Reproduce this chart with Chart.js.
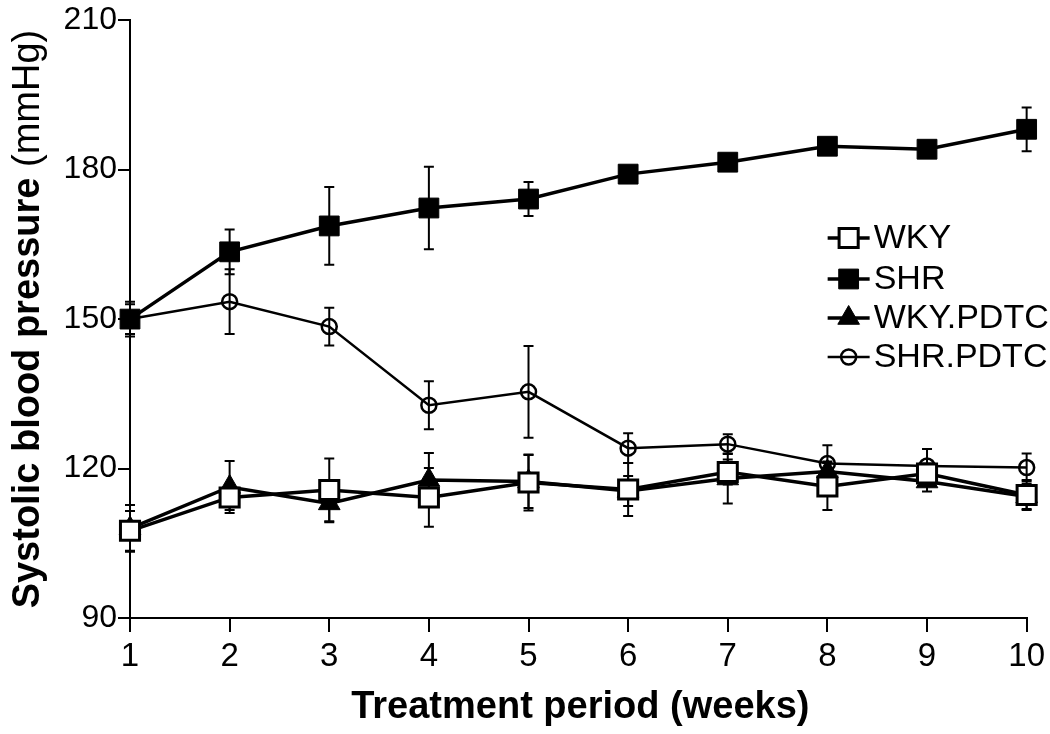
<!DOCTYPE html>
<html>
<head>
<meta charset="utf-8">
<script src="https://cdn.jsdelivr.net/npm/chart.js@4"></script>
<style>
  html, body { margin: 0; padding: 0; background: #fff; }
  #wrap { width: 1050px; height: 734px; position: relative; }
</style>
</head>
<body>
<div id="wrap"><canvas id="c" width="1050" height="734"></canvas></div>
<script>
// ---- data ----
const weeks = [1, 2, 3, 4, 5, 6, 7, 8, 9, 10];
const seriesNames = ['WKY', 'SHR', 'WKY.PDTC', 'SHR.PDTC'];
const wky        = [107.5, 114.2, 115.7, 114.2, 117.2, 115.8, 119.3, 116.4, 119.0, 114.7];
const wkyErr     = [4.0, 2.5, 6.3, 5.9, 5.6, 5.3, 2.5, 4.7, 2.0, 3.0];
const shr        = [150.0, 163.5, 168.7, 172.3, 174.1, 179.1, 181.5, 184.7, 184.1, 188.1];
const shrErr     = [3.5, 4.5, 7.8, 8.3, 3.4, 1.5, 1.2, 1.0, 1.0, 4.4];
const wkyPdtc    = [108.0, 116.3, 113.0, 117.7, 117.4, 115.5, 118.0, 119.4, 117.4, 114.4];
const wkyPdtcErr = [4.7, 5.2, 3.8, 5.4, 5.3, 3.0, 5.0, 2.0, 2.0, 2.5];
const shrPdtc    = [150.0, 153.5, 148.5, 132.7, 135.4, 124.1, 124.9, 121.0, 120.5, 120.2];
const shrPdtcErr = [3.0, 6.5, 3.8, 4.8, 9.2, 3.0, 2.0, 3.7, 3.4, 2.8];
const yTicks = [90, 120, 150, 180, 210];
const xTitle = 'Treatment period (weeks)';
const yTitleBold = 'Systolic blood pressure';
const yTitleRegular = ' (mmHg)';

const FONT = "'Liberation Sans', Arial, Helvetica, sans-serif";

function pts(vals) { return weeks.map((w, i) => ({ x: w, y: vals[i] })); }

const datasets = [
  { label: seriesNames[0], data: pts(wky), err: wkyErr, borderColor: '#000', borderWidth: 3.5,
    pointStyle: 'rect', pointRadius: 13.5, pointBackgroundColor: '#fff', pointBorderColor: '#000', pointBorderWidth: 3, clip: false },
  { label: seriesNames[1], data: pts(shr), err: shrErr, borderColor: '#000', borderWidth: 3.5,
    pointStyle: 'rect', pointRadius: 14, pointBackgroundColor: '#000', pointBorderColor: '#000', pointBorderWidth: 1, clip: false },
  { label: seriesNames[2], data: pts(wkyPdtc), err: wkyPdtcErr, borderColor: '#000', borderWidth: 3.5,
    pointStyle: 'triangle', pointRadius: 12.5, pointBackgroundColor: '#000', pointBorderColor: '#000', pointBorderWidth: 1, clip: false },
  { label: seriesNames[3], data: pts(shrPdtc), err: shrPdtcErr, borderColor: '#000', borderWidth: 2.5,
    pointStyle: 'circle', pointRadius: 7.5, pointBackgroundColor: 'rgba(0,0,0,0)', pointBorderColor: '#000', pointBorderWidth: 2.5, clip: false }
];

const errorBars = {
  id: 'errorBars',
  beforeDatasetsDraw(chart) {
    const ctx = chart.ctx, xs = chart.scales.x, ys = chart.scales.y;
    ctx.save();
    ctx.strokeStyle = '#000';
    ctx.lineWidth = 2;
    chart.data.datasets.forEach(ds => {
      ds.data.forEach((p, i) => {
        const e = ds.err[i];
        const px = xs.getPixelForValue(p.x);
        const top = ys.getPixelForValue(p.y + e);
        const bot = ys.getPixelForValue(p.y - e);
        ctx.beginPath();
        ctx.moveTo(px, top); ctx.lineTo(px, bot);
        ctx.moveTo(px - 5, top); ctx.lineTo(px + 5, top);
        ctx.moveTo(px - 5, bot); ctx.lineTo(px + 5, bot);
        ctx.stroke();
      });
    });
    ctx.restore();
  }
};

function drawMarker(ctx, ds, x, y) {
  const r = ds.pointRadius;
  ctx.save();
  ctx.lineWidth = ds.pointBorderWidth;
  ctx.strokeStyle = ds.pointBorderColor;
  ctx.fillStyle = ds.pointBackgroundColor;
  ctx.beginPath();
  if (ds.pointStyle === 'rect') {
    const s = r * Math.SQRT1_2;
    ctx.rect(x - s, y - s, 2 * s, 2 * s);
  } else if (ds.pointStyle === 'triangle') {
    let a = 0;
    ctx.moveTo(x + Math.sin(a) * r, y - Math.cos(a) * r);
    a += 2 * Math.PI / 3;
    ctx.lineTo(x + Math.sin(a) * r, y - Math.cos(a) * r);
    a += 2 * Math.PI / 3;
    ctx.lineTo(x + Math.sin(a) * r, y - Math.cos(a) * r);
    ctx.closePath();
  } else {
    ctx.arc(x, y, r, 0, Math.PI * 2);
  }
  ctx.fill();
  ctx.stroke();
  ctx.restore();
}

const decorations = {
  id: 'decorations',
  afterDraw(chart) {
    const ctx = chart.ctx, area = chart.chartArea;
    ctx.save();
    ctx.fillStyle = '#000';
    // x title
    ctx.font = 'bold 38px ' + FONT;
    ctx.textAlign = 'center';
    ctx.textBaseline = 'alphabetic';
    ctx.fillText(xTitle, (area.left + area.right) / 2 + 2, 718);
    // y title (mixed weight)
    ctx.font = 'bold 38px ' + FONT;
    const wb = ctx.measureText(yTitleBold).width;
    ctx.font = '38px ' + FONT;
    const wr = ctx.measureText(yTitleRegular).width;
    const total = wb + wr;
    ctx.save();
    ctx.translate(39, (area.top + area.bottom) / 2);
    ctx.rotate(-Math.PI / 2);
    ctx.textAlign = 'left';
    ctx.font = 'bold 38px ' + FONT;
    ctx.fillText(yTitleBold, -total / 2, 0);
    ctx.font = '38px ' + FONT;
    ctx.fillText(yTitleRegular, -total / 2 + wb, 0);
    ctx.restore();
    // legend
    const lx0 = area.right - 199, lx1 = area.right - 157, tx = area.right - 153;
    const rowY = [238, 279, 318, 357];
    chart.data.datasets.forEach((ds, i) => {
      const y = rowY[i];
      ctx.strokeStyle = '#000';
      ctx.lineWidth = ds.borderWidth;
      ctx.beginPath();
      ctx.moveTo(lx0, y); ctx.lineTo(lx1, y);
      ctx.stroke();
      drawMarker(ctx, ds, (lx0 + lx1) / 2, y);
      ctx.fillStyle = '#000';
      ctx.font = '34px ' + FONT;
      ctx.textAlign = 'left';
      ctx.textBaseline = 'middle';
      ctx.fillText(ds.label, tx, y + 1);
    });
    ctx.restore();
  }
};

new Chart(document.getElementById('c'), {
  type: 'line',
  data: { datasets },
  options: {
    responsive: false,
    animation: false,
    devicePixelRatio: 1,
    layout: { padding: { top: 20, right: 22, left: 0, bottom: 0 } },
    plugins: { legend: { display: false }, tooltip: { enabled: false } },
    elements: { line: { tension: 0 } },
    scales: {
      x: {
        type: 'linear', min: 1, max: 10,
        afterFit(s) { s.height = 116; },
        afterBuildTicks(s) { s.ticks = weeks.map(v => ({ value: v })); },
        ticks: { color: '#000', font: { family: FONT, size: 33 }, padding: 5, maxRotation: 0, autoSkip: false },
        grid: { display: true, drawOnChartArea: false, drawTicks: true, tickLength: 14, color: '#000', lineWidth: 2 },
        border: { display: true, color: '#000', width: 2 },
        title: { display: false }
      },
      y: {
        type: 'linear', min: 90, max: 210,
        afterFit(s) { s.width = 130; },
        afterBuildTicks(s) { s.ticks = yTicks.map(v => ({ value: v })); },
        ticks: { color: '#000', font: { family: FONT, size: 32 }, padding: 1 },
        grid: { display: true, drawOnChartArea: false, drawTicks: true, tickLength: 12, color: '#000', lineWidth: 2 },
        border: { display: true, color: '#000', width: 2 },
        title: { display: false }
      }
    }
  },
  plugins: [errorBars, decorations]
});
</script>
</body>
</html>
